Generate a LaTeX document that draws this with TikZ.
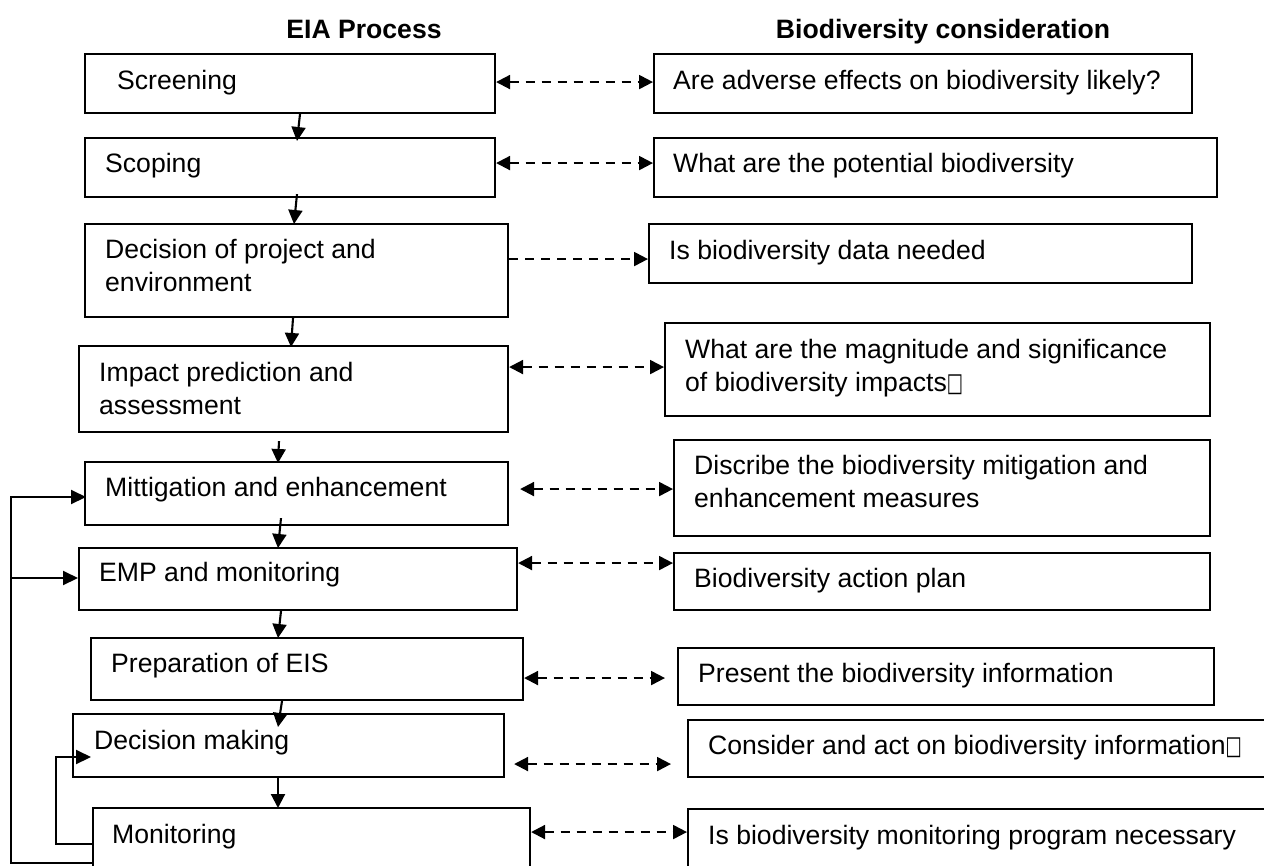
\documentclass[tikz,border=0pt]{standalone}
\usepackage{fontspec}
\usepackage{graphicx}
\setmainfont{Liberation Sans}
\newfontfamily\symfont{DejaVu Sans}
\usetikzlibrary{arrows.meta}
\newcommand{\missing}{\raisebox{0.5pt}{\symfont\fontsize{26}{26}\selectfont\scalebox{0.66}[1]{□}}}
\newcommand{\twolines}[2]{\begin{tabular}[t]{@{}l@{}}#1\\#2\end{tabular}}
\begin{document}
\begin{tikzpicture}[x=1pt,y=-1pt,
  box/.style={draw=black, line width=2.1pt, anchor=north west, inner sep=0pt},
  lbl/.style={anchor=base west, inner sep=0pt, font=\fontsize{26.6}{33}\selectfont},
  hdr/.style={anchor=base, inner sep=0pt, font=\fontsize{26.6}{33}\selectfont\bfseries},
  arr/.style={line width=2.1pt, -{Triangle[length=14pt,width=14pt]}},
  darr/.style={line width=2.1pt, dash pattern=on 9pt off 7pt,
     {Triangle[length=14pt,width=14pt]}-{Triangle[length=14pt,width=14pt]}},
  rarr/.style={line width=2.1pt, dash pattern=on 9pt off 7pt,
     -{Triangle[length=14pt,width=14pt]}},
  fb/.style={line width=2.1pt, -{Triangle[length=15pt,width=14pt]}}
]
\useasboundingbox (0,0) rectangle (1264,865);
\fill[white] (0,0) rectangle (1264,865);
\clip (0,0) rectangle (1264,865);

% headers
\node[hdr] (h1) at (364,38.5) {EIA Process};
\node[hdr] (h2) at (943,38.5) {Biodiversity consideration};

% left column boxes
\node[box, minimum width=410pt, minimum height=59pt] (scr) at (84,53) {};
\node[box, minimum width=410pt, minimum height=59pt] (scp) at (84,137) {};
\node[box, minimum width=423pt, minimum height=93pt] (dec) at (84,223) {};
\node[box, minimum width=429pt, minimum height=86pt] (imp) at (78,345) {};
\node[box, minimum width=423pt, minimum height=63pt] (mit) at (84,461) {};
\node[box, minimum width=438pt, minimum height=62pt] (emp) at (78,547) {};
\node[box, minimum width=432pt, minimum height=62pt] (prep) at (90,637) {};
\node[box, minimum width=431pt, minimum height=63pt] (dm) at (72,713) {};
\node[box, minimum width=437pt, minimum height=73pt] (mon) at (92,807) {};

% right column boxes
\node[box, minimum width=538pt, minimum height=59pt] (r1) at (653,53) {};
\node[box, minimum width=563pt, minimum height=59pt] (r2) at (653,137) {};
\node[box, minimum width=543pt, minimum height=59pt] (r3) at (648,223) {};
\node[box, minimum width=545pt, minimum height=93pt] (r4) at (664,322) {};
\node[box, minimum width=536pt, minimum height=96pt] (r5) at (673,439) {};
\node[box, minimum width=536pt, minimum height=57pt] (r6) at (673,552) {};
\node[box, minimum width=536pt, minimum height=57pt] (r7) at (677,647) {};
\node[box, minimum width=600pt, minimum height=57pt] (r8) at (687,719) {};
\node[box, minimum width=600pt, minimum height=72pt] (r9) at (687,808) {};

% left texts
\node[lbl] (t1) at (117,89.5) {Screening};
\node[lbl] (t2) at (105,172.5) {Scoping};
\node[lbl] (t3) at (105,258.5) {\twolines{Decision of project and}{environment}};
\node[lbl] (t4) at (99,381.5) {\twolines{Impact prediction and}{assessment}};
\node[lbl] (t5) at (105,496.5) {Mittigation and enhancement};
\node[lbl] (t6) at (99,581.5) {EMP and monitoring};
\node[lbl] (t7) at (111,672.5) {Preparation of EIS};
\node[lbl] (t8) at (94,749.5) {Decision making};
\node[lbl] (t9) at (112,843.5) {Monitoring};

% right texts
\node[lbl] (u1) at (673,89.5) {Are adverse effects on biodiversity likely?};
\node[lbl] (u2) at (673,172.5) {What are the potential biodiversity};
\node[lbl] (u3) at (669,259.5) {Is biodiversity data needed};
\node[lbl] (u4) at (685,358.5) {\twolines{What are the magnitude and significance}{of biodiversity impacts\missing}};
\node[lbl] (u5) at (694,474.5) {\twolines{Discribe the biodiversity mitigation and}{enhancement measures}};
\node[lbl] (u6) at (694,587.5) {Biodiversity action plan};
\node[lbl] (u7) at (698,682.5) {Present the biodiversity information};
\node[lbl] (u8) at (708,754.5) {Consider and act on biodiversity information\missing};
\node[lbl] (u9) at (708,844.5) {Is biodiversity monitoring program necessary};

% vertical flow arrows
\draw[arr] ([xshift=216pt]scr.south west) -- ([xshift=213pt,yshift=-4pt]scp.north west);
\draw[arr] ([xshift=213pt,yshift=4pt]scp.south west) -- ([xshift=210pt,yshift=-1pt]dec.north west);
\draw[arr] ([xshift=209pt]dec.south west) -- ([xshift=213pt,yshift=-2pt]imp.north west);
\draw[arr] ([xshift=201pt,yshift=-8pt]imp.south west) -- ([xshift=194pt,yshift=-2pt]mit.north west);
\draw[arr] ([xshift=197pt,yshift=8pt]mit.south west) -- ([xshift=200pt,yshift=-1pt]emp.north west);
\draw[arr] ([xshift=203pt]emp.south west) -- ([xshift=188pt,yshift=-1pt]prep.north west);
\draw[arr] ([xshift=192pt]prep.south west) -- ([xshift=206pt,yshift=-14pt]dm.north west);
\draw[arr] ([xshift=206pt]dm.south west) -- ([xshift=186pt,yshift=-1pt]mon.north west);

% dashed links
\draw[darr] ([yshift=1.5pt]scr.east) -- ([yshift=1.5pt]r1.west);
\draw[darr] ([yshift=4.5pt]scp.east) -- ([yshift=4.5pt]r2.west);
\draw[rarr] ([yshift=11.5pt]dec.east) -- ([yshift=-5.5pt]r3.west);
\draw[darr] ([yshift=22pt]imp.east) -- ([yshift=2.5pt]r4.west);
\draw[darr] ([xshift=11pt,yshift=4.5pt]mit.east) -- ([yshift=-1pt]r5.west);
\draw[darr] ([yshift=16pt]emp.east) -- ([yshift=18.5pt]r6.west);
\draw[darr] ([yshift=-9pt]prep.east) -- ([xshift=-12pt,yshift=-1.5pt]r7.west);
\draw[darr] ([xshift=9pt,yshift=-18.5pt]dm.east) -- ([xshift=-16pt,yshift=-15.5pt]r8.west);
\draw[darr] ([yshift=12.5pt]mon.east) -- ([yshift=13pt]r9.west);

% feedback loops
\coordinate (oc) at (11,497);
\coordinate (oj) at (11,578);
\coordinate (ic) at (56,757);
\draw[fb] ([yshift=-56pt]mon.north west) -| (oc) -- ([xshift=2pt,yshift=-36pt]mit.north west);
\draw[fb] (oj) -- ([yshift=-31pt]emp.north west);
\draw[fb] ([yshift=-37pt]mon.north west) -| (ic) -- ([xshift=19pt,yshift=-44pt]dm.north west);
\end{tikzpicture}
\end{document}
